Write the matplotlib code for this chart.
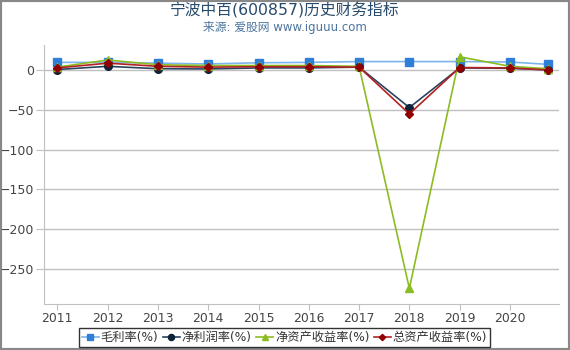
import matplotlib.pyplot as plt
from matplotlib.patches import Rectangle

plt.rcParams['font.family'] = ['DejaVu Sans', 'Noto Sans CJK SC']

# x positions: yearly reports, the last one is a partial year
years = [2011, 2012, 2013, 2014, 2015, 2016, 2017, 2018, 2019, 2020, 2020.75]
year_ticks = list(range(2011, 2021))

gross_margin = [10, 10, 9, 8, 9.5, 10, 11, 11, 11, 10.5, 7.5]
net_margin = [1, 5, 2, 1.7, 3, 3, 4, -47, 3, 2.5, 0.5]
roe = [4, 13, 7, 6, 6, 6, 5, -275, 17, 5, 2]
roa = [3, 9, 5, 4, 4.5, 4.5, 4, -55, 3.5, 3, 0.5]

series = [
    ('毛利率(%)', gross_margin, '#2f7ed8', '#7cb5ec', 's'),
    ('净利润率(%)', net_margin, '#0d233a', '#2b4560', 'o'),
    ('净资产收益率(%)', roe, '#8bbc21', '#8bbc21', '^'),
    ('总资产收益率(%)', roa, '#910000', '#b22222', 'D'),
]

fig = plt.figure(figsize=(5.7, 3.5), dpi=100)
ax = fig.add_axes([44.3 / 570, 1 - 304 / 350, 514.4 / 570, 259 / 350])

for label, vals, mcol, lcol, mk in series:
    ms = 4 if mk == 'D' else 5.5
    ax.plot(years, vals, color=lcol, lw=1.2, marker=mk, markersize=ms,
            markerfacecolor=mcol, markeredgecolor=mcol, label=label)

ax.set_xlim(2010.74, 2020.97)
ax.set_ylim(-294.7, 31.9)
ax.set_xticks(year_ticks)
ax.set_xticklabels([str(y) for y in year_ticks])
ax.set_yticks([-250, -200, -150, -100, -50, 0])
ax.yaxis.grid(True, color='#c0c0c0', lw=1)
ax.set_axisbelow(True)
for s in ['top', 'right']:
    ax.spines[s].set_visible(False)
ax.spines['left'].set_color('#c0c0c0')
ax.spines['bottom'].set_color('#c0c0c0')
ax.tick_params(axis='y', length=6, color='#c0c0c0', labelsize=9,
               labelcolor='#444444', pad=1)
ax.tick_params(axis='x', length=4, color='#c0c0c0', labelsize=8.9,
               labelcolor='#444444', pad=2)

fig.text(0.5, 1 - 10.5 / 350, '宁波中百(600857)历史财务指标', ha='center', va='center',
         fontsize=11.3, color='#274b6d')
fig.text(0.5, 1 - 28 / 350, '来源: 爱股网 www.iguuu.com', ha='center', va='center',
         fontsize=8.5, color='#4d759e')

leg = fig.legend(loc='center', bbox_to_anchor=(284.5 / 570, 1 - 337.5 / 350), ncol=4,
                 fontsize=8.8, frameon=True, fancybox=False, handlelength=1.4,
                 handletextpad=0.15, columnspacing=0.35, borderpad=0.25,
                 markerscale=0.8)
leg.get_frame().set_edgecolor('black')
leg.get_frame().set_linewidth(1)
for t in leg.get_texts():
    t.set_color('#333333')

fig.patches.append(Rectangle((0, 0), 1, 1, transform=fig.transFigure, fill=False,
                             edgecolor='#888888', lw=3))

fig.savefig('out.png', dpi=100)
